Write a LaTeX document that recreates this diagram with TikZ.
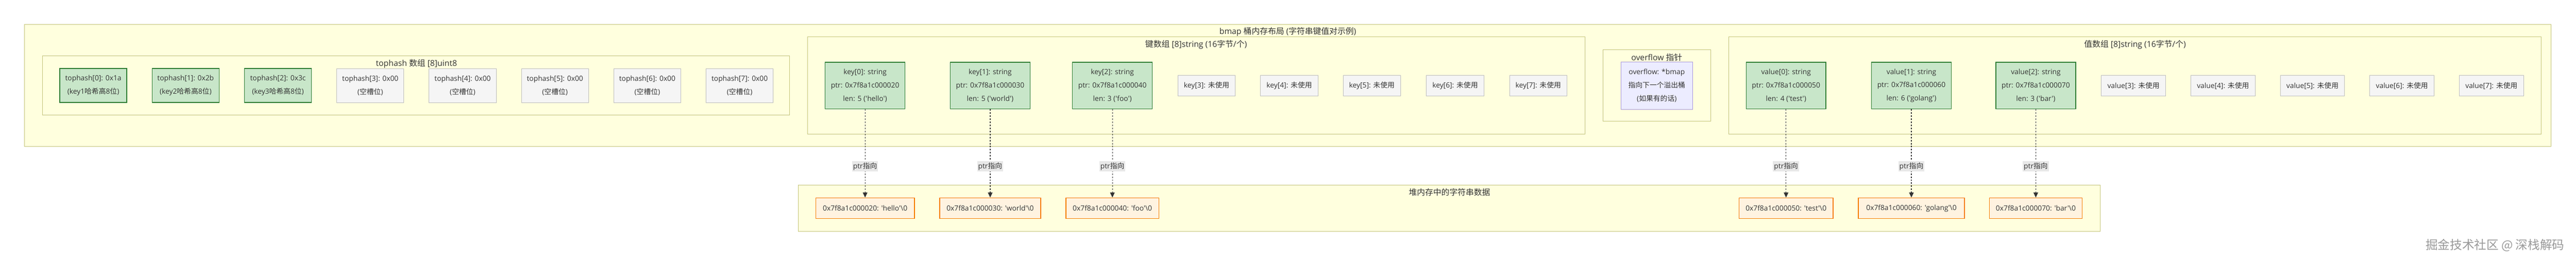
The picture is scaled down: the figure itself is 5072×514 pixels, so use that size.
\documentclass[tikz,border=0pt]{standalone}
\usepackage{fontspec}
\usetikzlibrary{arrows.meta}
\newfontfamily\latinfont{Open Sans}
\newfontfamily\cjk{Noto Sans CJK SC}
\newcommand\zh[1]{{\cjk #1}}
\definecolor{ink}{HTML}{333333}
\definecolor{grpfill}{HTML}{FFFFDE}
\definecolor{grpdraw}{HTML}{C4C47A}
\definecolor{usedfill}{HTML}{C8E6C9}
\definecolor{useddraw}{HTML}{2E7D32}
\definecolor{freefill}{HTML}{F5F5F5}
\definecolor{freedraw}{HTML}{BDBDBD}
\definecolor{heapfill}{HTML}{FFF3E0}
\definecolor{heapdraw}{HTML}{F57C00}
\definecolor{ovfill}{HTML}{ECECFF}
\definecolor{ovdraw}{HTML}{A796DC}
\definecolor{lblfill}{HTML}{E8E8E8}
\tikzset{%
    cell/.style={rectangle,inner sep=0pt,align=center,text=ink,font=\latinfont\fontsize{14}{26}\selectfont}
}

\begin{document}
\begin{tikzpicture}[
        x=1pt,y=-1pt,
        used/.style={cell,fill=usedfill,draw=useddraw,line width=1.5pt,minimum width=157pt,minimum height=92pt},
        free/.style={cell,fill=freefill,draw=freedraw,line width=1pt,minimum height=41pt},
        heap/.style={cell,fill=heapfill,draw=heapdraw,line width=1.5pt,minimum height=40.7pt},
        grp/.style={fill=grpfill,draw=grpdraw,line width=1pt},
        title/.style={inner sep=0pt,text=ink,font=\latinfont\fontsize{16}{20}\selectfont},
        ptr/.style={draw=ink,line width=1.2pt,dash pattern=on 3pt off 3pt,-{Triangle[length=10pt,width=9pt]}},
        lbl/.style={cell,fill=lblfill,inner xsep=2pt,minimum height=20.7pt,pos=0.645}
        ]
        \fill[white] (0,0) rectangle (5072,514);
        \useasboundingbox (0,0) rectangle (5072,514);

        % bucket and its groups
        \draw[grp] (48,48) rectangle (5023,289);
        \node[title] (bucketT) at (2535.5,62.3) {bmap \zh{桶内存布局} (\zh{字符串键值对示例})};
        \draw[grp] (84,110) rectangle (1555,227);
        \node[title] (thT) at (820,125.3) {tophash \zh{数组} [8]uint8};
        \draw[grp] (1590.4,72.7) rectangle (3120.5,264.3);
        \node[title] (keyT) at (2355,87.7) {\zh{键数组} [8]string (16\zh{字节}/\zh{个})};
        \draw[grp] (3156,97.7) rectangle (3368.3,239.3);
        \node[title] (ovT) at (3262,112.7) {overflow \zh{指针}};
        \draw[grp] (3403.6,72.7) rectangle (5003.7,264.3);
        \node[title] (valT) at (4203.7,87.7) {\zh{值数组} [8]string (16\zh{字节}/\zh{个})};
        \draw[grp] (1571.4,365) rectangle (4135.4,456);
        \node[title] (heapT) at (2854,379) {\zh{堆内存中的字符串数据}};

        % tophash
        \node[used,minimum width=132pt,minimum height=67pt] (th0) at (183.7,168.5) {tophash[0]: 0x1a\\(key1\zh{哈希高}8\zh{位})};
        \node[used,minimum width=132pt,minimum height=67pt] (th1) at (365.5,168.5) {tophash[1]: 0x2b\\(key2\zh{哈希高}8\zh{位})};
        \node[used,minimum width=132pt,minimum height=67pt] (th2) at (547.3,168.5) {tophash[2]: 0x3c\\(key3\zh{哈希高}8\zh{位})};
        \node[free,minimum width=132pt,minimum height=67pt] (th3) at (729.1,168.5) {tophash[3]: 0x00\\(\zh{空槽位})};
        \node[free,minimum width=132pt,minimum height=67pt] (th4) at (910.9,168.5) {tophash[4]: 0x00\\(\zh{空槽位})};
        \node[free,minimum width=132pt,minimum height=67pt] (th5) at (1092.7,168.5) {tophash[5]: 0x00\\(\zh{空槽位})};
        \node[free,minimum width=132pt,minimum height=67pt] (th6) at (1274.5,168.5) {tophash[6]: 0x00\\(\zh{空槽位})};
        \node[free,minimum width=132pt,minimum height=67pt] (th7) at (1456.3,168.5) {tophash[7]: 0x00\\(\zh{空槽位})};

        % keys
        \node[used] (k0) at (1703.3,168.8) {key[0]: string\\ptr: 0x7f8a1c000020\\len: 5 ('hello')};
        \node[used] (k1) at (1949.6,168.8) {key[1]: string\\ptr: 0x7f8a1c000030\\len: 5 ('world')};
        \node[used] (k2) at (2190.2,168.8) {key[2]: string\\ptr: 0x7f8a1c000040\\len: 3 ('foo')};
        \node[free,minimum width=113pt] (k3) at (2375.8,168.8) {key[3]: \zh{未使用}};
        \node[free,minimum width=113pt] (k4) at (2538.5,168.8) {key[4]: \zh{未使用}};
        \node[free,minimum width=113pt] (k5) at (2701.1,168.8) {key[5]: \zh{未使用}};
        \node[free,minimum width=113pt] (k6) at (2865.1,168.8) {key[6]: \zh{未使用}};
        \node[free,minimum width=113pt] (k7) at (3028.7,168.8) {key[7]: \zh{未使用}};

        % overflow
        \node[cell,fill=ovfill,draw=ovdraw,line width=1pt,minimum width=141.6pt,minimum height=92.7pt] (ov) at (3262.1,168.7)
            {overflow: *bmap\\\zh{指向下一个溢出桶}\\(\zh{如果有的话})};

        % values
        \node[used] (v0) at (3516.6,168.8) {value[0]: string\\ptr: 0x7f8a1c000050\\len: 4 ('test')};
        \node[used] (v1) at (3763.4,168.8) {value[1]: string\\ptr: 0x7f8a1c000060\\len: 6 ('golang')};
        \node[used] (v2) at (4008.3,168.8) {value[2]: string\\ptr: 0x7f8a1c000070\\len: 3 ('bar')};
        \node[free,minimum width=126.3pt] (v3) at (4200.7,168.8) {value[3]: \zh{未使用}};
        \node[free,minimum width=126.3pt] (v4) at (4376.9,168.8) {value[4]: \zh{未使用}};
        \node[free,minimum width=126.3pt] (v5) at (4553.1,168.8) {value[5]: \zh{未使用}};
        \node[free,minimum width=126.3pt] (v6) at (4729.3,168.8) {value[6]: \zh{未使用}};
        \node[free,minimum width=126.3pt] (v7) at (4905.5,168.8) {value[7]: \zh{未使用}};

        % heap strings
        \coordinate (row) at (0,410.4);
        \node[heap,minimum width=194pt] (hk0) at (k0 |- row) {0x7f8a1c000020: 'hello'\textbackslash 0};
        \node[heap,minimum width=199pt] (hk1) at (k1 |- row) {0x7f8a1c000030: 'world'\textbackslash 0};
        \node[heap,minimum width=183pt] (hk2) at (k2 |- row) {0x7f8a1c000040: 'foo'\textbackslash 0};
        \node[heap,minimum width=185.6pt] (hv0) at (v0 |- row) {0x7f8a1c000050: 'test'\textbackslash 0};
        \node[heap,minimum width=208.6pt] (hv1) at (v1 |- row) {0x7f8a1c000060: 'golang'\textbackslash 0};
        \node[heap,minimum width=182.4pt] (hv2) at (v2 |- row) {0x7f8a1c000070: 'bar'\textbackslash 0};

        \draw[ptr] (k0) -- node[lbl] {ptr\zh{指向}} (hk0);
        \draw[ptr] (k1) -- node[lbl] {ptr\zh{指向}} (hk1);
        \draw[ptr] (k2) -- node[lbl] {ptr\zh{指向}} (hk2);
        \draw[ptr] (v0) -- node[lbl] {ptr\zh{指向}} (hv0);
        \draw[ptr] (v1) -- node[lbl] {ptr\zh{指向}} (hv1);
        \draw[ptr] (v2) -- node[lbl] {ptr\zh{指向}} (hv2);

        \node[inner sep=0pt,text=black!40,font=\cjk\fontsize{24}{28}\selectfont] (mark) at (4912.5,483) {掘金技术社区 @ 深栈解码};
    \end{tikzpicture}
\end{document}
